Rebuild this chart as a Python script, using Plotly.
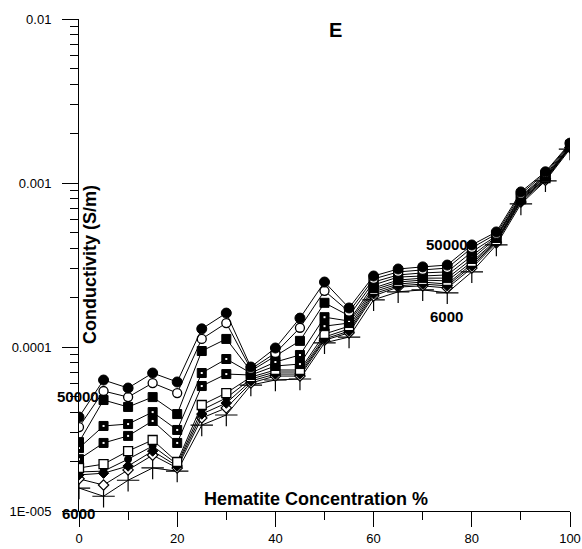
import plotly.graph_objects as go

conc = [0, 5, 10, 15, 20, 25, 30, 35, 40, 45, 50, 55, 60, 65, 70, 75, 80, 85, 90, 95, 100]

f50000 = [3.74e-5, 6.29e-5, 5.62e-5, 6.94e-5, 6.12e-5, 1.29e-4, 1.61e-4, 7.55e-5, 9.86e-5, 1.50e-4, 2.49e-4, 1.73e-4, 2.71e-4, 2.99e-4, 3.08e-4, 3.16e-4, 4.19e-4, 5.03e-4, 8.82e-4, 1.17e-3, 1.75e-3]
f40000 = [3.25e-5, 5.39e-5, 4.95e-5, 6.03e-5, 5.24e-5, 1.12e-4, 1.40e-4, 7.34e-5, 9.19e-5, 1.31e-4, 2.20e-4, 1.64e-4, 2.60e-4, 2.87e-4, 2.95e-4, 3.03e-4, 4.02e-4, 4.89e-4, 8.57e-4, 1.15e-3, 1.73e-3]
f30000 = [2.63e-5, 4.75e-5, 4.31e-5, 4.95e-5, 3.90e-5, 9.45e-5, 1.12e-4, 7.14e-5, 8.81e-5, 1.09e-4, 1.86e-4, 1.55e-4, 2.49e-4, 2.75e-4, 2.83e-4, 2.87e-4, 3.80e-4, 4.75e-4, 8.33e-4, 1.12e-3, 1.71e-3]
f25000 = [2.42e-5, 3.30e-5, 3.39e-5, 4.01e-5, 3.12e-5, 6.94e-5, 8.45e-5, 6.94e-5, 8.10e-5, 8.94e-5, 1.52e-4, 1.44e-4, 2.39e-4, 2.67e-4, 2.71e-4, 2.75e-4, 3.59e-4, 4.69e-4, 8.22e-4, 1.10e-3, 1.68e-3]
f20000 = [2.07e-5, 2.60e-5, 2.87e-5, 3.54e-5, 2.60e-5, 5.78e-5, 6.84e-5, 6.75e-5, 7.66e-5, 7.87e-5, 1.34e-4, 1.40e-4, 2.29e-4, 2.56e-4, 2.63e-4, 2.63e-4, 3.44e-4, 4.62e-4, 8.10e-4, 1.09e-3, 1.67e-3]
f15000 = [1.83e-5, 1.93e-5, 2.32e-5, 2.71e-5, 1.99e-5, 4.43e-5, 5.24e-5, 6.56e-5, 7.24e-5, 7.24e-5, 1.20e-4, 1.34e-4, 2.23e-4, 2.49e-4, 2.56e-4, 2.53e-4, 3.30e-4, 4.49e-4, 7.99e-4, 1.07e-3, 1.66e-3]
f12000 = [1.73e-5, 1.75e-5, 2.07e-5, 2.49e-5, 1.93e-5, 4.13e-5, 4.89e-5, 6.38e-5, 7.04e-5, 7.04e-5, 1.15e-4, 1.29e-4, 2.17e-4, 2.42e-4, 2.49e-4, 2.42e-4, 3.21e-4, 4.43e-4, 7.88e-4, 1.06e-3, 1.66e-3]
f10000 = [1.66e-5, 1.70e-5, 1.88e-5, 2.32e-5, 1.88e-5, 3.90e-5, 4.55e-5, 6.20e-5, 6.84e-5, 6.84e-5, 1.12e-4, 1.25e-4, 2.11e-4, 2.36e-4, 2.42e-4, 2.36e-4, 3.12e-4, 4.37e-4, 7.77e-4, 1.06e-3, 1.64e-3]
f8000 = [1.57e-5, 1.44e-5, 1.78e-5, 2.19e-5, 1.83e-5, 3.69e-5, 4.25e-5, 6.03e-5, 6.65e-5, 6.65e-5, 1.10e-4, 1.22e-4, 2.05e-4, 2.32e-4, 2.36e-4, 2.29e-4, 3.03e-4, 4.31e-4, 7.66e-4, 1.04e-3, 1.64e-3]
f6000 = [1.38e-5, 1.23e-5, 1.54e-5, 1.83e-5, 1.75e-5, 3.34e-5, 3.85e-5, 5.86e-5, 6.29e-5, 6.38e-5, 1.06e-4, 1.15e-4, 1.94e-4, 2.17e-4, 2.23e-4, 2.14e-4, 2.87e-4, 4.19e-4, 7.45e-4, 1.03e-3, 1.61e-3]

series_names = ["6000", "8000", "10000", "12000", "15000", "20000", "25000", "30000", "40000", "50000"]
series_vals = [f6000, f8000, f10000, f12000, f15000, f20000, f25000, f30000, f40000, f50000]

y_tickvals = [1e-5, 1e-4, 1e-3, 1e-2]
y_ticktext = ["1E-005", "0.0001", "0.001", "0.01"]

FONT = "Arial, Liberation Sans, sans-serif"

# marker styles: (symbol, size, fill colour, outline width)
styles = {
    "6000": ("cross-thin-open", 16, "black", 1.2),
    "8000": ("diamond", 8, "white", 1.2),
    "10000": ("diamond", 8, "black", 1),
    "12000": ("circle", 7, "black", 1),
    "15000": ("square", 9, "white", 1.3),
    "20000": ("square", 9, "black", 1),
    "25000": ("square", 9, "black", 1),
    "30000": ("square", 9, "black", 1),
    "40000": ("circle", 9, "white", 1.3),
    "50000": ("circle", 10, "black", 1),
}

fig = go.Figure()
for name, vals in zip(series_names, series_vals):
    sym, size, col, lw = styles[name]
    fig.add_trace(go.Scatter(
        x=conc, y=vals, mode="lines+markers", name=name,
        line=dict(color="black", width=1),
        marker=dict(symbol=sym, size=size, color=col,
                    line=dict(color="black", width=lw)),
        showlegend=False,
    ))
    if name in ("20000", "25000"):
        fig.add_trace(go.Scatter(
            x=conc, y=vals, mode="markers",
            marker=dict(symbol="square", size=2, color="white", line=dict(width=0)),
            showlegend=False, hoverinfo="skip",
        ))

fig.update_layout(
    template="none",
    width=582, height=549,
    margin=dict(l=79, r=12, t=19, b=38, autoexpand=False),
    paper_bgcolor="white", plot_bgcolor="white",
    font=dict(family=FONT, size=13, color="black"),
    xaxis=dict(
        range=[0, 100], showgrid=False, zeroline=False, automargin=False,
        showline=True, linecolor="black", linewidth=1,
        ticks="outside", ticklen=15, tickwidth=1, tickcolor="black",
        tick0=0, dtick=20,
        minor=dict(ticks="outside", ticklen=8, tickwidth=1, tickcolor="black", dtick=10, showgrid=False),
        tickfont=dict(size=13, family=FONT),
    ),
    yaxis=dict(
        type="log", range=[-5, -2], showgrid=False, zeroline=False, automargin=False,
        showline=True, linecolor="black", linewidth=1,
        ticks="outside", ticklen=16, tickwidth=1, tickcolor="black",
        tickvals=y_tickvals, ticktext=y_ticktext, ticklabelstandoff=8,
        minor=dict(ticks="outside", ticklen=8, tickwidth=1, tickcolor="black", dtick="D1", showgrid=False),
        tickfont=dict(size=13, family=FONT),
    ),
    annotations=[
        dict(text="<b>E</b>", xref="paper", yref="paper", x=0.522, y=0.978,
             xanchor="center", yanchor="middle", showarrow=False, font=dict(size=20, family=FONT)),
        dict(text="<b>Hematite Concentration %</b>", xref="paper", yref="paper", x=0.483, y=0,
             xanchor="center", yanchor="bottom", showarrow=False, font=dict(size=18, family=FONT)),
        dict(text="<b>Conductivity (S/m)</b>", xref="paper", yref="paper", x=0.0224, y=0.502,
             xanchor="center", yanchor="middle", textangle=-90, showarrow=False, font=dict(size=18, family=FONT)),
        dict(text="<b>50000</b>", xref="paper", yref="paper", x=-0.002, y=0.233,
             xanchor="center", yanchor="middle", showarrow=False, font=dict(size=15, family=FONT)),
        dict(text="<b>6000</b>", xref="paper", yref="paper", x=-0.002, y=-0.005,
             xanchor="center", yanchor="middle", showarrow=False, font=dict(size=15, family=FONT)),
        dict(text="<b>50000</b>", xref="paper", yref="paper", x=0.750, y=0.541,
             xanchor="center", yanchor="middle", showarrow=False, font=dict(size=15, family=FONT)),
        dict(text="<b>6000</b>", xref="paper", yref="paper", x=0.748, y=0.396,
             xanchor="center", yanchor="middle", showarrow=False, font=dict(size=15, family=FONT)),
    ],
)

fig.write_html("out.html", config={"displayModeBar": False},
               post_script="document.body.style.margin='0px';document.body.style.overflow='hidden';")
